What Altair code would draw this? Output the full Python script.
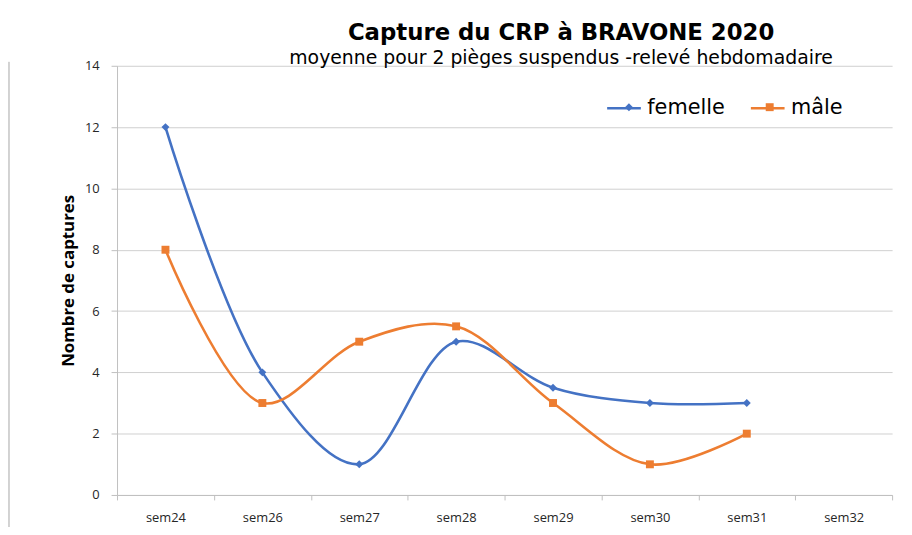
import altair as alt
import pandas as pd

weeks = ["sem24", "sem26", "sem27", "sem28", "sem29", "sem30", "sem31", "sem32"]
femelle = [12, 4, 1, 5, 3.5, 3, 3, None]
male = [8, 3, 5, 5.5, 3, 1, 2, None]
series_names = ["femelle", "mâle"]
series_colors = ["#4472C4", "#ED7D31"]
marker_shapes = ["diamond", "square"]
y_ticks = [0, 2, 4, 6, 8, 10, 12, 14]

marker_names = [n + " " for n in series_names]  # separate domain so the marker legend is not merged
rows = []
for name, mname, vals in zip(series_names, marker_names, [femelle, male]):
    for w, v in zip(weeks, vals):
        if v is not None:
            rows.append({"semaine": w, "serie": name, "serie_m": mname, "captures": v})
df = pd.DataFrame(rows)

label_font = "Open Sans"

x_enc = alt.X(
    "semaine:N",
    sort=weeks,
    bandPosition=0.5,
    scale=alt.Scale(type="band", domain=weeks, paddingInner=0, paddingOuter=0),
    axis=alt.Axis(
        title=None, labelAngle=0, tickBand="extent", grid=False,
        domainColor="#bfbfbf", tickColor="#bfbfbf", tickSize=5,
        labelPadding=12, labelFontSize=13, labelColor="#262626", labelFont=label_font,
    ),
)
y_enc = alt.Y(
    "captures:Q",
    scale=alt.Scale(domain=[0, 14], nice=False),
    axis=alt.Axis(
        values=y_ticks, title="Nombre de captures", grid=True, gridColor="#cfcfcf",
        domainColor="#bfbfbf", tickColor="#bfbfbf", tickSize=6, labelPadding=12,
        labelFontSize=13, labelColor="#262626", labelFont=label_font,
        titleFont=label_font, titleFontSize=17, titleFontWeight="bold",
        titleColor="#000000", titlePadding=7,
    ),
)

line_len = 34
mk = 8
leg_font = 21
leg_lines = alt.Legend(
    title=None, orient="none", legendX=493, legendY=24, direction="horizontal",
    symbolType="stroke", symbolSize=line_len * line_len, symbolStrokeWidth=2.5,
    labelFontSize=leg_font, labelFont="DejaVu Sans", labelColor="#000000",
    columnPadding=20, labelOffset=5,
)
# marker legend without labels, overlaid on the centres of the legend lines
leg_marks = alt.Legend(
    title=None, orient="none", legendX=493 + (line_len - mk) / 2, legendY=31,
    direction="horizontal", symbolSize=mk * mk, symbolStrokeWidth=0, symbolOpacity=1,
    labelFontSize=leg_font, labelExpr="''", labelOffset=0,
    columnPadding=121,
)

lines = alt.Chart(df).mark_line(interpolate="catmull-rom", strokeWidth=2.6).encode(
    x=x_enc, y=y_enc,
    color=alt.Color("serie:N", scale=alt.Scale(domain=series_names, range=series_colors), legend=leg_lines),
)

points = alt.Chart(df).mark_point(filled=True, size=64, opacity=1).encode(
    x=x_enc, y=y_enc,
    fill=alt.Fill("serie_m:N", scale=alt.Scale(domain=marker_names, range=series_colors), legend=leg_marks),
    shape=alt.Shape("serie_m:N", scale=alt.Scale(domain=marker_names, range=marker_shapes), legend=leg_marks),
)

frame_data = alt.Data(values=[{"k": 1}])
frame_left = alt.Chart(frame_data).mark_rule(color="#a6a6a6", strokeWidth=1).encode(
    x=alt.value(-109), y=alt.value(-4), y2=alt.value(480)
)

chart = alt.layer(frame_left, lines, points).properties(
    width=782,
    height=433,
    autosize=alt.AutoSizeParams(type="none"),
    padding={"left": 110, "top": 56, "right": 12, "bottom": 30},
    title=alt.TitleParams(
        text="Capture du CRP à BRAVONE 2020",
        subtitle="moyenne pour 2 pièges suspendus -relevé hebdomadaire",
        font="DejaVu Sans", fontSize=23, fontWeight="bold", color="#000000",
        subtitleFont="DejaVu Sans", subtitleFontSize=19, subtitleColor="#000000",
        anchor="middle", frame="group", dx=57, offset=-8, subtitlePadding=4,
    ),
).configure_view(stroke=None)

chart.save("out.html", embed_options={"renderer": "svg", "actions": False})
